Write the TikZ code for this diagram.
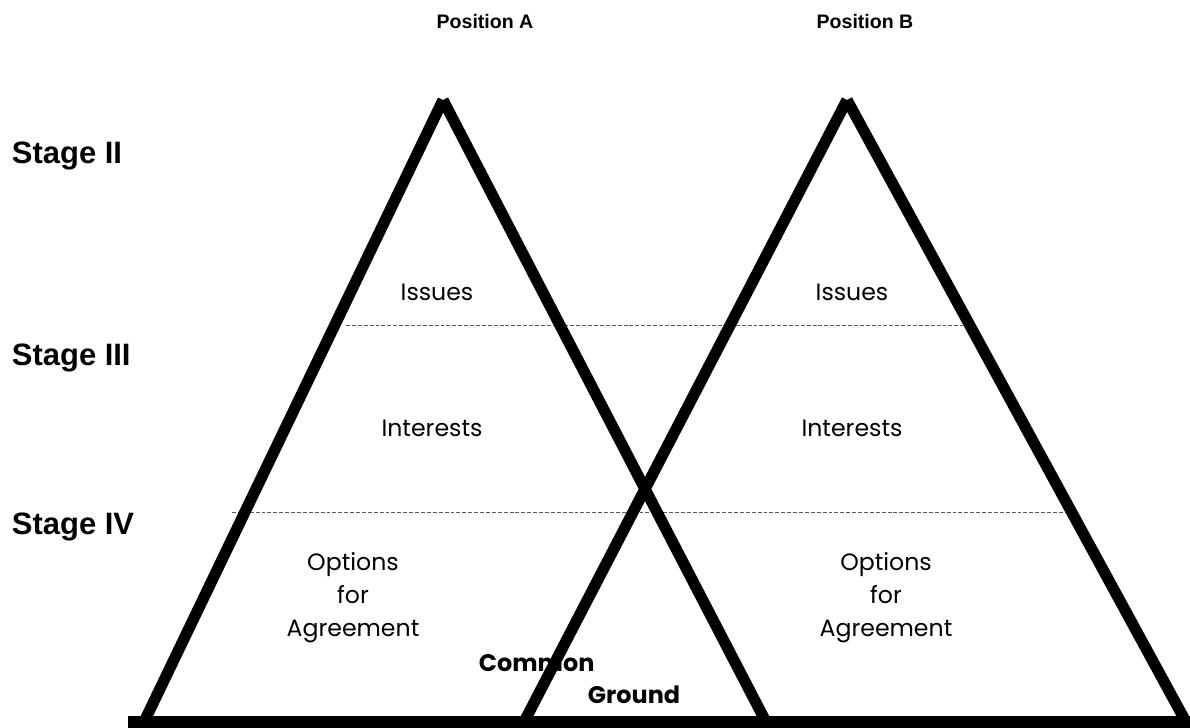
\documentclass[tikz,border=0pt]{standalone}
\usepackage{fontspec}
\setmainfont{Poppins}
\newfontfamily\arialfont{Liberation Sans}

\begin{document}
\begin{tikzpicture}[x=0.025cm, y=-0.025cm,
	side/.style={line width=0.28cm},
	level/.style={line width=0.6pt, color=black!65, dash pattern=on 2.8pt off 1.4pt},
	zone/.style={font=\fontsize{16.8}{23.5}\selectfont, align=center},
	common/.style={font=\bfseries\fontsize{17}{22}\selectfont, anchor=west},
	stage/.style={font=\arialfont\bfseries\fontsize{22}{26}\selectfont, anchor=west},
	position/.style={font=\arialfont\bfseries\fontsize{13.9}{16}\selectfont}]
	\useasboundingbox (0,0) rectangle (1190,728);

	\node[position] at (485,22)(posA){Position A};
	\node[position] at (865,22)(posB){Position B};
	\node[stage] at (7,156)(st2){Stage II};
	\node[stage] at (7,358)(st3){Stage III};
	\node[stage] at (7,527)(st4){Stage IV};

	\node[zone] at (437,292)(issA){Issues};
	\node[zone] at (852,292)(issB){Issues};
	\node[zone] at (432,428)(intA){Interests};
	\node[zone] at (852,428)(intB){Interests};
	\node[zone] at (353,598)(optA){Options\\for\\Agreement};
	\node[zone] at (886,598)(optB){Options\\for\\Agreement};
	\node[common] at (474,663)(com){Common};
	\node[common] at (583,695)(gro){Ground};

	\coordinate (tA) at (443,100);
	\coordinate (lA) at (144,722);
	\coordinate (rA) at (766,722);
	\coordinate (tB) at (847,100);
	\coordinate (lB) at (524,722);
	\coordinate (rB) at (1186,722);
	\coordinate (b0) at (128,722);
	\coordinate (b1) at (1190,722);

	\coordinate (d1) at (346,325);
	\coordinate (d2) at (963,325);
	\coordinate (d3) at (232,512);
	\coordinate (d4) at (1068,512);
	\draw[level] (d1) -- (d2)	(d3) -- (d4);

	\draw[side] (lA) -- (tA);
	\draw[side] (tA) -- (rA);
	\draw[side] (lB) -- (tB);
	\draw[side] (tB) -- (rB);
	\draw[side] (b0) -- (b1);
\end{tikzpicture}
\end{document}
